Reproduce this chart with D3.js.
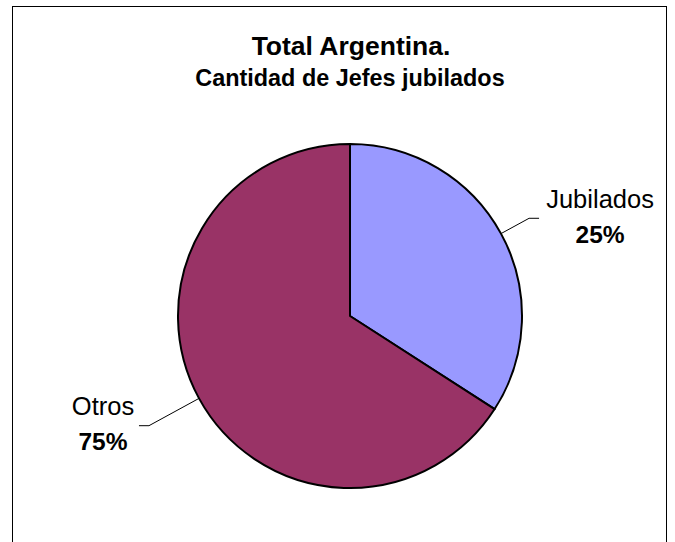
<!DOCTYPE html>
<html>
<head>
<meta charset="utf-8">
<script src="https://cdn.jsdelivr.net/npm/d3@7"></script>
<style>
  html, body { margin: 0; padding: 0; background: #fff; }
  svg { display: block; font-family: "Liberation Sans", Arial, sans-serif; }
</style>
</head>
<body>
<svg id="chart" width="675" height="542"></svg>
<script>
// data
const categories = ["Jubilados", "Otros"];
const values = [34.1, 65.9];
const pctLabels = ["25%", "75%"];
const colors = ["#9999FF", "#993366"];

const title = "Total Argentina.";
const subtitle = "Cantidad de Jefes jubilados";

const svg = d3.select("#chart");
const cx = 350, cy = 316, radius = 172;

// frame
svg.append("rect")
  .attr("x", 12.5).attr("y", 6.5)
  .attr("width", 654).attr("height", 560)
  .attr("fill", "#fff")
  .attr("stroke", "#000")
  .attr("stroke-width", 1);

svg.append("text")
  .attr("x", 351).attr("y", 55)
  .attr("text-anchor", "middle")
  .attr("font-size", 26.5).attr("font-weight", "bold")
  .text(title);

svg.append("text")
  .attr("x", 350).attr("y", 86)
  .attr("text-anchor", "middle")
  .attr("font-size", 23.4).attr("font-weight", "bold")
  .text(subtitle);

const rows = categories.map((c, i) => ({ name: c, value: values[i], pct: pctLabels[i], color: colors[i] }));

const pie = d3.pie().sort(null).value(d => d.value);
const arc = d3.arc().innerRadius(0).outerRadius(radius);
const arcs = pie(rows);

const g = svg.append("g").attr("transform", "translate(" + cx + "," + cy + ")");

g.selectAll("path")
  .data(arcs)
  .enter()
  .append("path")
  .attr("d", arc)
  .attr("fill", d => d.data.color)
  .attr("stroke", "#000")
  .attr("stroke-width", 2)
  .attr("stroke-linejoin", "round");

// label layout: elbow radius, horizontal run, text position relative to elbow
const labelLayout = [
  { elbowR: 204, run: 10, tx: 71, ty: -10 },
  { elbowR: 229, run: -10, tx: -46, ty: -11 }
];

const point = (a, r) => [Math.sin(a) * r, -Math.cos(a) * r];

arcs.forEach((d, i) => {
  const L = labelLayout[i];
  const mid = (d.startAngle + d.endAngle) / 2;
  const p0 = point(mid, radius);
  const p1 = point(mid, L.elbowR);
  const p2 = [p1[0] + L.run, p1[1]];

  g.append("polyline")
    .attr("points", [p0, p1, p2].map(p => p.join(",")).join(" "))
    .attr("fill", "none")
    .attr("stroke", "#000")
    .attr("stroke-width", 1);

  const tx = p1[0] + L.tx, ty = p1[1] + L.ty;
  g.append("text")
    .attr("x", tx).attr("y", ty)
    .attr("text-anchor", "middle")
    .attr("font-size", 25.5)
    .text(d.data.name);
  g.append("text")
    .attr("x", tx).attr("y", ty + 35)
    .attr("text-anchor", "middle")
    .attr("font-size", 24.5).attr("font-weight", "bold")
    .text(d.data.pct);
});
</script>
</body>
</html>
